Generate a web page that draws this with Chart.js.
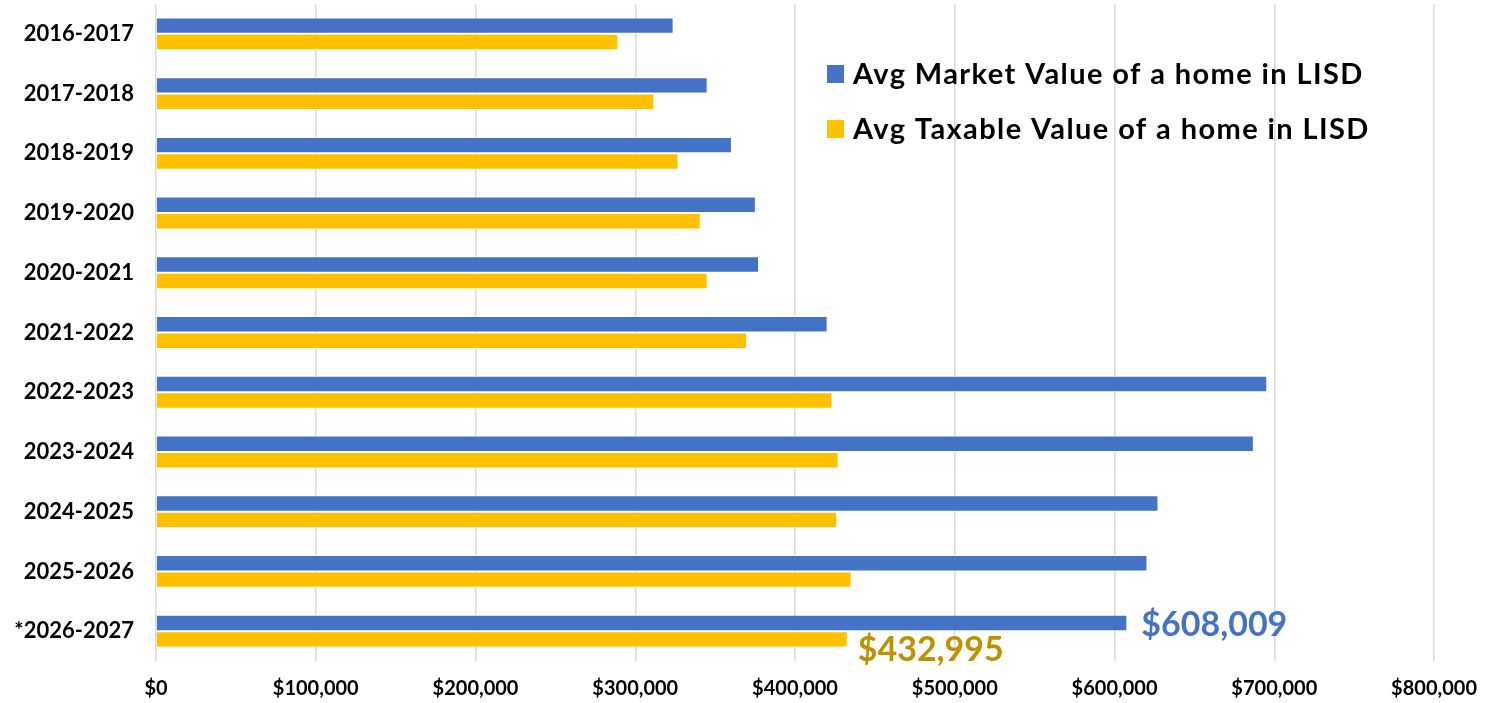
<!DOCTYPE html>
<html>
<head>
<meta charset="utf-8">
<script src="https://cdn.jsdelivr.net/npm/chart.js@4.4.1/dist/chart.umd.min.js"></script>
<style>
  html, body { margin: 0; padding: 0; background: #ffffff; }
  #wrap { width: 1493px; height: 703px; }
</style>
</head>
<body>
<div id="wrap"><canvas id="chart" width="1493" height="703"></canvas></div>
<script>
// School years shown on the category axis (top to bottom)
const categories = [
  '2016-2017', '2017-2018', '2018-2019', '2019-2020', '2020-2021', '2021-2022',
  '2022-2023', '2023-2024', '2024-2025', '2025-2026', '*2026-2027'
];

// Average market value of a home in LISD
const marketValues = [
  324000, 345300, 360500, 375500, 377500, 420400,
  695600, 687200, 627500, 620600, 608009
];

// Average taxable value of a home in LISD
const taxableValues = [
  289400, 311900, 327100, 341000, 345300, 370000,
  423400, 427300, 426400, 435400, 432995
];

// Value axis ticks
const xTicks = [0, 100000, 200000, 300000, 400000, 500000, 600000, 700000, 800000];

const seriesLabels = ['Avg Market Value of a home in LISD', 'Avg Taxable Value of a home in LISD'];
const seriesColors = ['#4472C4', '#FFC000'];
const calloutColors = ['#4472C4', '#BF9000'];

const money = v => '$' + Number(v).toLocaleString('en-US');

// Legend drawn inside the plot, to the upper right
const insideLegend = {
  id: 'insideLegend',
  afterDraw(chart) {
    const ctx = chart.ctx;
    ctx.save();
    ctx.font = 'bold 29px Lato, sans-serif';
    if ('letterSpacing' in ctx) ctx.letterSpacing = '1.4px';
    ctx.textBaseline = 'middle';
    ctx.textAlign = 'left';
    chart.data.datasets.forEach((ds, i) => {
      const y = 74 + i * 55;
      ctx.fillStyle = ds.backgroundColor;
      ctx.fillRect(827, y - 9, 17, 18);
      ctx.fillStyle = '#000000';
      ctx.fillText(ds.label, 853, y + 1);
    });
    ctx.restore();
  }
};

// Value callouts next to the most recent year's bars
const lastYearCallouts = {
  id: 'lastYearCallouts',
  afterDatasetsDraw(chart) {
    const ctx = chart.ctx;
    const idx = categories.length - 1;
    const offsets = [{ dx: 14, dy: 2 }, { dx: 10, dy: 11 }];
    ctx.save();
    ctx.font = 'bold 34px Lato, sans-serif';
    ctx.textBaseline = 'middle';
    ctx.textAlign = 'left';
    chart.data.datasets.forEach((ds, i) => {
      const bar = chart.getDatasetMeta(i).data[idx];
      ctx.fillStyle = calloutColors[i];
      ctx.fillText(money(ds.data[idx]), bar.x + offsets[i].dx, bar.y + offsets[i].dy);
    });
    ctx.restore();
  }
};

new Chart(document.getElementById('chart'), {
  type: 'bar',
  data: {
    labels: categories,
    datasets: [
      {
        label: seriesLabels[0],
        data: marketValues,
        backgroundColor: seriesColors[0],
        borderColor: '#ffffff',
        borderWidth: 1,
        borderSkipped: 'start'
      },
      {
        label: seriesLabels[1],
        data: taxableValues,
        backgroundColor: seriesColors[1],
        borderColor: '#ffffff',
        borderWidth: 1,
        borderSkipped: 'start'
      }
    ]
  },
  options: {
    indexAxis: 'y',
    responsive: false,
    animation: false,
    categoryPercentage: 0.55,
    barPercentage: 1.0,
    layout: { padding: { top: 4, right: 58, left: 0, bottom: 0 } },
    plugins: {
      legend: { display: false },
      tooltip: { enabled: false }
    },
    scales: {
      x: {
        min: 0,
        max: 800000,
        afterBuildTicks(scale) {
          scale.ticks = xTicks.map(v => ({ value: v }));
        },
        afterFit(scale) {
          scale.height = 42;
          scale.paddingTop = 0;
          scale.paddingBottom = 0;
        },
        grid: { color: '#d9d9d9', lineWidth: 1.5, drawTicks: false },
        border: { display: false },
        ticks: {
          padding: 16,
          color: '#000000',
          font: { family: 'Lato, sans-serif', size: 20, weight: 'bold' },
          callback: v => money(v)
        }
      },
      y: {
        afterFit(scale) {
          scale.width = 156;
          scale.paddingTop = 0;
          scale.paddingBottom = 0;
        },
        grid: { display: false, drawTicks: false },
        border: { display: false },
        ticks: {
          padding: 22,
          color: '#000000',
          font: { family: 'Lato, sans-serif', size: 22, weight: 'bold' }
        }
      }
    }
  },
  plugins: [lastYearCallouts, insideLegend]
});
</script>
</body>
</html>
